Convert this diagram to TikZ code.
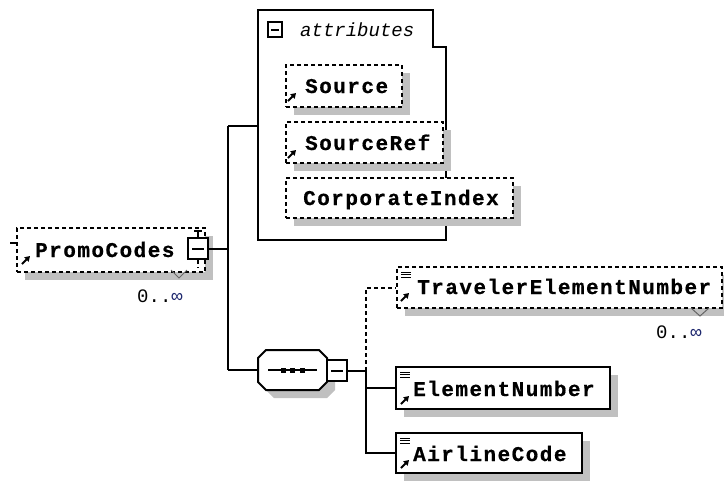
\documentclass[tikz,border=0pt]{standalone}
\usepackage{fontspec}
\usetikzlibrary{shadows,arrows.meta}
\newfontfamily\bmono{Liberation Mono}[LetterSpace=7, UprightFont={* Bold}, FakeBold=0.6]
\newfontfamily\nmono{Liberation Mono}
\definecolor{shadowgray}{RGB}{192,192,192}
\definecolor{infblue}{RGB}{30,40,110}
\tikzset{
  ln/.style={line width=2pt, black},
  dsh/.style={dash pattern=on 4pt off 3pt},
  shad/.style={drop shadow={shadow xshift=8pt, shadow yshift=-8pt, fill=shadowgray, opacity=1}},
  elbox/.style={draw, ln, fill=white, inner sep=0pt, shad},
  optbox/.style={elbox, dsh},
  minusbox/.style={draw, ln, fill=white, inner sep=0pt},
  lbl/.style={font=\bmono\fontsize{21}{21}\selectfont, inner sep=0pt, anchor=base west},
  mult/.style={font=\nmono\fontsize{19}{19}\selectfont, inner sep=0pt, anchor=base west},
  ital/.style={font=\nmono\itshape\fontsize{19}{19}\selectfont, inner sep=0pt, anchor=base west},
  refarrow/.style={line width=1.8pt, -{Triangle[length=5pt,width=6pt]}},
  icon/.style={line width=1pt},
  chev/.style={line width=1pt, black!60},
}
\begin{document}
\begin{tikzpicture}[x=1pt,y=-1pt]
\useasboundingbox (0,0) rectangle (724,480);
% ---------- PromoCodes ----------
\node[optbox, minimum width=188pt, minimum height=44pt] (promo) at (111,250) {};
\node[lbl] (promot) at (35,257) {PromoCodes};
\draw[refarrow] (22,264) -- (30,256);
\draw[ln] (10,243) -- (17,243);
\node[minusbox, minimum width=20pt, minimum height=21pt] (pm) at (198,248.5) {};
\draw[ln] (192,248.5) -- (204,248.5);
\draw[ln] (198,231) -- (pm.north);
\draw[ln] (194,231) -- (202,231);
\draw[ln, dsh] (pm.south) -- (198,268);
\draw[chev] (171,270) -- (179,278) -- (187,270);
\node[mult] (pmult) at (137,302) {0..\textcolor{infblue}{∞}};
% ---------- junctions ----------
\coordinate (j1) at (228,248.5);
\coordinate (jt) at (228,126);
\coordinate (jb) at (228,370);
\draw[ln] (pm.east) -- (j1);
\draw[ln] (jt) -- (jb);
% ---------- attributes ----------
\node[inner sep=0pt, minimum width=188pt, minimum height=192pt] (attr) at (352,144) {};
\draw[ln] (258,10) -- (433,10) -- (433,47) -- (446,47) -- (446,240) -- (258,240) -- cycle;
\node[minusbox, minimum width=14pt, minimum height=15pt] (am) at (275,29.5) {};
\draw[ln] (271,29.5) -- (279,29.5);
\node[ital] (attrt) at (300,36) {attributes};
\draw[ln] (jt) -- (jt -| attr.west);
\node[optbox, minimum width=116pt, minimum height=42pt] (src) at (344,86) {};
\node[lbl] (srct) at (305,93) {Source};
\draw[refarrow] (288,101) -- (296,93);
\node[optbox, minimum width=157pt, minimum height=41pt] (srcref) at (364.5,142.5) {};
\node[lbl] (srcreft) at (305,150) {SourceRef};
\draw[refarrow] (288,158) -- (296,150);
\node[optbox, minimum width=227pt, minimum height=40pt] (corp) at (399.5,198) {};
\node[lbl] (corpt) at (303,205) {CorporateIndex};
% ---------- sequence ----------
\node[inner sep=0pt, minimum width=69pt, minimum height=40pt] (seq) at (292.5,370) {};
\fill[shadowgray] (266,366) -- (274,358) -- (327,358) -- (335,366) -- (335,390) -- (327,398) -- (274,398) -- (266,390) -- cycle;
\draw[ln, fill=white] (258,358) -- (266,350) -- (319,350) -- (327,358) -- (327,382) -- (319,390) -- (266,390) -- (258,382) -- cycle;
\draw[ln] (268,370) -- (317,370);
\foreach \x in {283,292,302} \fill (\x-2.5,367.5) rectangle (\x+2.5,372.5);
\node[minusbox, minimum width=20pt, minimum height=21pt] (sm) at (337,370.5) {};
\draw[ln] (331,370.5) -- (343,370.5);
\draw[ln] (jb) -- (seq.west);
\coordinate (j2) at (366,370.5);
\draw[ln] (sm.east) -- (j2);
% ---------- children ----------
\node[optbox, minimum width=325pt, minimum height=41pt] (trav) at (559.5,287.5) {};
\node[lbl] (travt) at (417,294) {TravelerElementNumber};
\draw[refarrow] (401,301) -- (409,293);
\foreach \y in {272,274.5,277} \draw[icon] (401,\y) -- (411,\y);
\draw[chev] (691,308) -- (700,316) -- (709,308);
\node[mult] (tmult) at (656,338) {0..\textcolor{infblue}{∞}};
\draw[ln, dsh] (j2) -- (j2 |- trav.west) -- (trav.west);

\node[elbox, minimum width=214pt, minimum height=42pt] (eln) at (503,388) {};
\node[lbl] (elnt) at (413,396) {ElementNumber};
\draw[refarrow] (401,404) -- (409,396);
\foreach \y in {372,374.5,377} \draw[icon] (400,\y) -- (410,\y);
\draw[ln] (j2) |- (eln.west);

\node[elbox, minimum width=186pt, minimum height=40pt] (air) at (489,453) {};
\node[lbl] (airt) at (413,461) {AirlineCode};
\draw[refarrow] (401,468) -- (409,460);
\foreach \y in {438,440.5,443} \draw[icon] (400,\y) -- (410,\y);
\draw[ln] (j2) |- (air.west);
\end{tikzpicture}
\end{document}
